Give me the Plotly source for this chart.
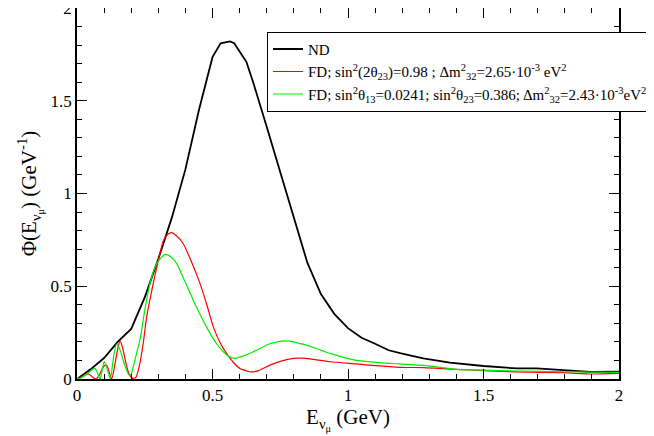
import plotly.graph_objects as go

# ND (near detector) flux
nd_E = [0, 0.05, 0.1, 0.15, 0.2, 0.25, 0.3, 0.35, 0.4, 0.45, 0.5, 0.53, 0.565, 0.58,
        0.625, 0.65, 0.7, 0.75, 0.8, 0.85, 0.9, 0.95, 1.0, 1.05, 1.1, 1.15, 1.2,
        1.278, 1.376, 1.5, 1.623, 1.696, 1.795, 1.893, 2.0]
nd_phi = [0, 0.052, 0.113, 0.2, 0.27, 0.44, 0.647, 0.87, 1.13, 1.45, 1.735, 1.81, 1.82, 1.81,
          1.71, 1.6, 1.36, 1.12, 0.875, 0.627, 0.458, 0.35, 0.274, 0.222, 0.19, 0.155, 0.137,
          0.111, 0.088, 0.07, 0.057, 0.057, 0.048, 0.038, 0.039]

# FD, 2-flavour
red_E = [0, 0.01, 0.025, 0.036, 0.05, 0.06, 0.07, 0.08, 0.09, 0.1, 0.109, 0.118, 0.128,
         0.14, 0.15, 0.159, 0.168, 0.18, 0.19, 0.2, 0.21, 0.218, 0.232, 0.245, 0.257, 0.275,
         0.294, 0.319, 0.335, 0.349, 0.365, 0.392, 0.42, 0.454, 0.48, 0.503, 0.53, 0.552,
         0.58, 0.601, 0.638, 0.67, 0.712, 0.75, 0.798, 0.83, 0.86, 0.934, 1.032, 1.1, 1.192,
         1.278, 1.4, 1.5, 1.62, 1.795, 1.9, 2.0]
red_phi = [0, 0.002, 0.02, 0.027, 0.02, 0.008, 0.0, 0.015, 0.045, 0.07, 0.075, 0.04, 0.0,
           0.08, 0.16, 0.205, 0.17, 0.09, 0.035, 0.008, 0.003, 0.01, 0.084, 0.2, 0.335, 0.47,
           0.6, 0.747, 0.78, 0.789, 0.775, 0.729, 0.64, 0.514, 0.395, 0.281, 0.19, 0.138,
           0.085, 0.057, 0.039, 0.045, 0.075, 0.095, 0.111, 0.112, 0.108, 0.093, 0.081, 0.072,
           0.063, 0.061, 0.052, 0.045, 0.038, 0.034, 0.027, 0.03]

# FD, 3-flavour
green_E = [0, 0.02, 0.04, 0.055, 0.066, 0.075, 0.085, 0.093, 0.1, 0.11, 0.123, 0.135,
           0.146, 0.158, 0.175, 0.19, 0.198, 0.205, 0.215, 0.232, 0.25, 0.269, 0.294, 0.325,
           0.345, 0.368, 0.4, 0.429, 0.46, 0.491, 0.515, 0.54, 0.56, 0.583, 0.601, 0.651,
           0.712, 0.768, 0.847, 0.934, 1.026, 1.118, 1.192, 1.278, 1.4, 1.5, 1.62, 1.795, 2.0]
green_phi = [0, 0.01, 0.03, 0.05, 0.057, 0.035, 0.0, 0.05, 0.093, 0.06, 0.0, 0.12,
             0.188, 0.16, 0.08, 0.025, 0.02, 0.05, 0.11, 0.21, 0.37, 0.514, 0.622, 0.672,
             0.66, 0.622, 0.52, 0.425, 0.33, 0.246, 0.19, 0.147, 0.122, 0.111, 0.118, 0.147,
             0.19, 0.206, 0.183, 0.138, 0.102, 0.088, 0.081, 0.0735, 0.052, 0.048, 0.043,
             0.039, 0.036]

tick_vals = [0, 0.5, 1, 1.5, 2]
tick_text = ["0", "0.5", "1", "1.5", "2"]

names = [
    "ND",
    "FD; sin<sup>2</sup>(2θ<sub>23</sub>)=0.98 ; Δm<sup>2</sup><sub>32</sub>=2.65·10<sup>-3</sup> eV<sup>2</sup>",
    "FD; sin<sup>2</sup>θ<sub>13</sub>=0.0241; sin<sup>2</sup>θ<sub>23</sub>=0.386; Δm<sup>2</sup><sub>32</sub>=2.43·10<sup>-3</sup>eV<sup>2</sup>",
]

fig = go.Figure()
fig.add_trace(go.Scatter(x=nd_E, y=nd_phi, mode="lines", name=names[0],
                         line=dict(color="black", width=1.8)))
fig.add_trace(go.Scatter(x=red_E, y=red_phi, mode="lines", name=names[1],
                         line=dict(color="#ff0000", width=1.2, shape="spline", smoothing=0.6)))
fig.add_trace(go.Scatter(x=green_E, y=green_phi, mode="lines", name=names[2],
                         line=dict(color="#00ee00", width=1.2, shape="spline", smoothing=0.6)))

serif = "Liberation Serif"
axis_common = dict(
    showline=True, linecolor="black", linewidth=1.5, mirror="allticks",
    ticks="inside", ticklen=10, tickwidth=1, tickcolor="black",
    showgrid=False, zeroline=False, automargin=False,
    tickfont=dict(family=serif, size=17, color="black"),
    ticklabeloverflow="allow",
)
fig.update_xaxes(range=[0, 2], tickvals=tick_vals, ticktext=tick_text,
                 minor=dict(dtick=0.1, ticks="inside", ticklen=5, tickcolor="black", showgrid=False),
                 title=dict(text="E<sub>ν<sub>μ</sub></sub> (GeV)", font=dict(family=serif, size=21, color="black"),
                            standoff=0),
                 **axis_common)
fig.update_yaxes(range=[0, 2], tickvals=tick_vals, ticktext=tick_text,
                 minor=dict(dtick=0.1, ticks="inside", ticklen=5, tickcolor="black", showgrid=False),
                 title=dict(text="Φ(E<sub>ν<sub>μ</sub></sub>) (GeV<sup>-1</sup>)", font=dict(family=serif, size=21, color="black"),
                            standoff=8),
                 **axis_common)

# page body has an 8px margin, so the figure is sized/shifted to compensate
fig.update_layout(
    width=646, height=428,
    margin=dict(l=69, r=35, t=0, b=57),
    plot_bgcolor="white", paper_bgcolor="white",
    font=dict(family=serif, color="black"),
    legend=dict(x=0.3506, y=0.936, xanchor="left", yanchor="top",
                bgcolor="white", bordercolor="black", borderwidth=1,
                font=dict(family=serif, size=15, color="black"),
                itemwidth=30, tracegroupgap=0),
)

fig.write_html("out.html")
